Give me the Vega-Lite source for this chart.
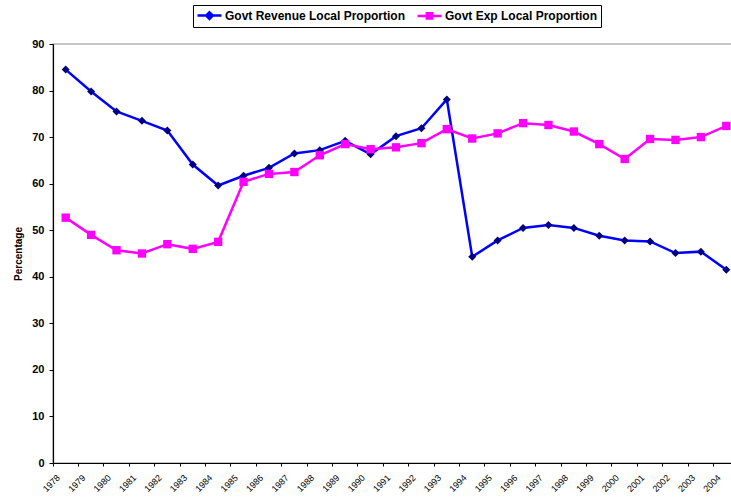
{
  "$schema": "https://vega.github.io/schema/vega-lite/v6.json",
  "autosize": "none",
  "padding": {"left": 53, "top": 44, "right": 0, "bottom": 37},
  "width": 686,
  "height": 419,
  "background": "white",
  "config": {
    "font": "Liberation Sans",
    "view": {"stroke": "#b4b4b4", "strokeWidth": 1.5}
  },
  "data": {
    "values": [
      {"year": "1978", "series": "Govt Revenue Local Proportion", "value": 84.5},
      {"year": "1979", "series": "Govt Revenue Local Proportion", "value": 79.8},
      {"year": "1980", "series": "Govt Revenue Local Proportion", "value": 75.5},
      {"year": "1981", "series": "Govt Revenue Local Proportion", "value": 73.5},
      {"year": "1982", "series": "Govt Revenue Local Proportion", "value": 71.4},
      {"year": "1983", "series": "Govt Revenue Local Proportion", "value": 64.1},
      {"year": "1984", "series": "Govt Revenue Local Proportion", "value": 59.6},
      {"year": "1985", "series": "Govt Revenue Local Proportion", "value": 61.7},
      {"year": "1986", "series": "Govt Revenue Local Proportion", "value": 63.4},
      {"year": "1987", "series": "Govt Revenue Local Proportion", "value": 66.5},
      {"year": "1988", "series": "Govt Revenue Local Proportion", "value": 67.2},
      {"year": "1989", "series": "Govt Revenue Local Proportion", "value": 69.2},
      {"year": "1990", "series": "Govt Revenue Local Proportion", "value": 66.3},
      {"year": "1991", "series": "Govt Revenue Local Proportion", "value": 70.2},
      {"year": "1992", "series": "Govt Revenue Local Proportion", "value": 71.9},
      {"year": "1993", "series": "Govt Revenue Local Proportion", "value": 78.1},
      {"year": "1994", "series": "Govt Revenue Local Proportion", "value": 44.3},
      {"year": "1995", "series": "Govt Revenue Local Proportion", "value": 47.8},
      {"year": "1996", "series": "Govt Revenue Local Proportion", "value": 50.5},
      {"year": "1997", "series": "Govt Revenue Local Proportion", "value": 51.1},
      {"year": "1998", "series": "Govt Revenue Local Proportion", "value": 50.5},
      {"year": "1999", "series": "Govt Revenue Local Proportion", "value": 48.8},
      {"year": "2000", "series": "Govt Revenue Local Proportion", "value": 47.8},
      {"year": "2001", "series": "Govt Revenue Local Proportion", "value": 47.6},
      {"year": "2002", "series": "Govt Revenue Local Proportion", "value": 45.1},
      {"year": "2003", "series": "Govt Revenue Local Proportion", "value": 45.4},
      {"year": "2004", "series": "Govt Revenue Local Proportion", "value": 41.5},
      {"year": "1978", "series": "Govt Exp Local Proportion", "value": 52.7},
      {"year": "1979", "series": "Govt Exp Local Proportion", "value": 49.0},
      {"year": "1980", "series": "Govt Exp Local Proportion", "value": 45.7},
      {"year": "1981", "series": "Govt Exp Local Proportion", "value": 45.0},
      {"year": "1982", "series": "Govt Exp Local Proportion", "value": 47.0},
      {"year": "1983", "series": "Govt Exp Local Proportion", "value": 46.0},
      {"year": "1984", "series": "Govt Exp Local Proportion", "value": 47.5},
      {"year": "1985", "series": "Govt Exp Local Proportion", "value": 60.4},
      {"year": "1986", "series": "Govt Exp Local Proportion", "value": 62.1},
      {"year": "1987", "series": "Govt Exp Local Proportion", "value": 62.5},
      {"year": "1988", "series": "Govt Exp Local Proportion", "value": 66.1},
      {"year": "1989", "series": "Govt Exp Local Proportion", "value": 68.5},
      {"year": "1990", "series": "Govt Exp Local Proportion", "value": 67.4},
      {"year": "1991", "series": "Govt Exp Local Proportion", "value": 67.8},
      {"year": "1992", "series": "Govt Exp Local Proportion", "value": 68.7},
      {"year": "1993", "series": "Govt Exp Local Proportion", "value": 71.7},
      {"year": "1994", "series": "Govt Exp Local Proportion", "value": 69.7},
      {"year": "1995", "series": "Govt Exp Local Proportion", "value": 70.8},
      {"year": "1996", "series": "Govt Exp Local Proportion", "value": 73.0},
      {"year": "1997", "series": "Govt Exp Local Proportion", "value": 72.6},
      {"year": "1998", "series": "Govt Exp Local Proportion", "value": 71.2},
      {"year": "1999", "series": "Govt Exp Local Proportion", "value": 68.5},
      {"year": "2000", "series": "Govt Exp Local Proportion", "value": 65.3},
      {"year": "2001", "series": "Govt Exp Local Proportion", "value": 69.6},
      {"year": "2002", "series": "Govt Exp Local Proportion", "value": 69.4},
      {"year": "2003", "series": "Govt Exp Local Proportion", "value": 70.0},
      {"year": "2004", "series": "Govt Exp Local Proportion", "value": 72.4}
    ]
  },
  "encoding": {
    "x": {
      "field": "year",
      "type": "ordinal",
      "scale": {"type": "band", "paddingInner": 0, "paddingOuter": 0},
      "axis": {
        "title": null,
        "bandPosition": 0,
        "labelAngle": -45,
        "labelAlign": "right",
        "labelBaseline": "top",
        "labelOffset": -10,
        "labelPadding": 7,
        "labelFontSize": 9,
        "labelColor": "#000000",
        "domainColor": "#000000",
        "domainWidth": 1.2,
        "tickColor": "#000000",
        "tickSize": 3,
        "grid": false
      }
    },
    "y": {
      "field": "value",
      "type": "quantitative",
      "scale": {"domain": [0, 90], "nice": false},
      "axis": {
        "title": "Percentage",
        "titleFontSize": 10,
        "titleFontWeight": "bold",
        "titleColor": "#000000",
        "titlePadding": 8,
        "values": [0, 10, 20, 30, 40, 50, 60, 70, 80, 90],
        "labelFontSize": 11,
        "labelFontWeight": "bold",
        "labelColor": "#000000",
        "labelPadding": 5,
        "domainColor": "#000000",
        "domainWidth": 1.2,
        "tickColor": "#000000",
        "tickSize": 4,
        "grid": false
      }
    }
  },
  "layer": [
    {
      "mark": {"type": "line", "strokeWidth": 2.5},
      "encoding": {
        "color": {
          "field": "series",
          "type": "nominal",
          "scale": {
            "domain": ["Govt Revenue Local Proportion", "Govt Exp Local Proportion"],
            "range": ["#0000ff", "#ff00ff"]
          },
          "legend": {
            "title": null,
            "orient": "none",
            "direction": "horizontal",
            "legendX": 140,
            "legendY": -39,
            "strokeColor": "#000000",
            "fillColor": "#ffffff",
            "padding": 3,
            "labelFontSize": 12,
            "labelFontWeight": "bold",
            "labelColor": "#000000",
            "labelLimit": 400,
            "labelOffset": 14,
            "columnPadding": 6,
            "symbolType": "M-1,0L3,0M1,-0.55L1.55,0L1,0.55L0.45,0Z",
            "symbolSize": 144,
            "symbolStrokeWidth": 2.5,
            "encode": {
              "symbols": {
                "update": {
                  "shape": {"signal": "datum.value === 'Govt Revenue Local Proportion' ? 'M-1,0L3,0M1,-0.55L1.55,0L1,0.55L0.45,0Z' : 'M-1,0L3,0M0.55,-0.45L1.45,-0.45L1.45,0.45L0.55,0.45Z'"},
                  "fill": {"signal": "datum.value === 'Govt Revenue Local Proportion' ? '#000080' : '#ff00ff'"},
                  "stroke": {"signal": "datum.value === 'Govt Revenue Local Proportion' ? '#0000ff' : '#ff00ff'"},
                  "strokeWidth": {"value": 2.5},
                  "fillOpacity": {"value": 1},
                  "strokeOpacity": {"value": 1}
                }
              }
            }
          }
        }
      }
    },
    {
      "transform": [{"filter": "datum.series === 'Govt Revenue Local Proportion'"}],
      "mark": {"type": "point", "shape": "diamond", "filled": true, "opacity": 1, "color": "#000080", "size": 64}
    },
    {
      "transform": [{"filter": "datum.series === 'Govt Exp Local Proportion'"}],
      "mark": {"type": "point", "shape": "square", "filled": true, "opacity": 1, "color": "#ff00ff", "size": 70}
    }
  ]
}
